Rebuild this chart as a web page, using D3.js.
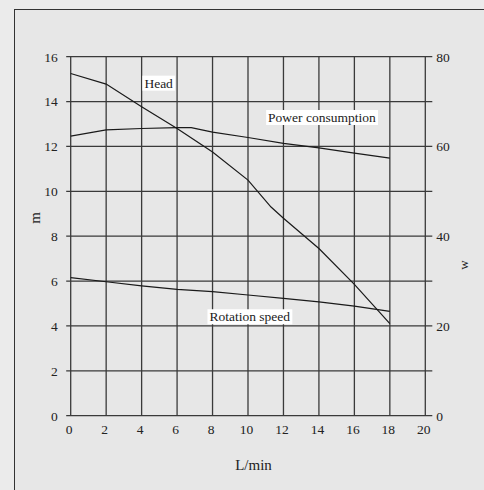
<!DOCTYPE html>
<head>
    <meta charset="utf-8">
    <script src="https://d3js.org/d3.v7.min.js"></script>
    <style>
        body { margin:0; background:#ebebeb; }
        text { font-family: "Liberation Serif", "Times New Roman", serif; fill:#222; }
    </style>
</head>
<body>
<script>
    // flow (L/min) on x
    var flow = [0, 2, 4, 6, 8, 10, 11.3, 12, 14, 16, 18];
    // head in m (left axis)
    var head = [15.25, 14.78, 13.77, 12.8, 11.75, 10.5, 9.3, 8.8, 7.45, 5.85, 4.1];

    var powerFlow = [0, 2, 4, 6, 6.8, 8, 10, 12, 14, 16, 18];
    // power consumption in W (right axis)
    var power = [62.3, 63.7, 64.0, 64.2, 64.2, 63.2, 62.0, 60.7, 59.7, 58.5, 57.4];

    var speedFlow = [0, 2, 4, 6, 8, 10, 12, 14, 16, 18];
    // rotation speed, drawn against the left scale
    var speed = [6.15, 5.97, 5.79, 5.63, 5.53, 5.38, 5.23, 5.07, 4.88, 4.65];

    var xTicks = [0, 2, 4, 6, 8, 10, 12, 14, 16, 18, 20];
    var yTicks = [0, 2, 4, 6, 8, 10, 12, 14, 16];
    var y2Ticks = [0, 20, 40, 60, 80];

    // annotation labels, in data coords (left scale)
    var labels = [
        {text: "Head", x: 4.96, y: 14.83},
        {text: "Power consumption", x: 14.17, y: 13.3},
        {text: "Rotation speed", x: 10.1, y: 4.42}
    ];

    var width = 484, height = 490;
    var serif = '"Liberation Serif", "Times New Roman", serif';

    var svg = d3.select("body").append("svg")
        .attr("width", width)
        .attr("height", height);

    // panel box, only top and left edges show
    svg.append("rect")
        .attr("x", 14.5).attr("y", 9.5)
        .attr("width", 500).attr("height", 500)
        .attr("fill", "#e7e7e7")
        .attr("stroke", "#333")
        .attr("stroke-width", 1);

    var x = d3.scaleLinear().domain([0, 20]).range([70.7, 425.3]);
    var y = d3.scaleLinear().domain([0, 16]).range([415.7, 56.7]);
    var y2 = d3.scaleLinear().domain([0, 80]).range([415.7, 56.7]);

    // grid
    svg.append("g").selectAll("line")
        .data(yTicks).enter().append("line")
        .attr("x1", x(0) - 4.5).attr("x2", x(20) + 7)
        .attr("y1", function(d) { return y(d); })
        .attr("y2", function(d) { return y(d); })
        .attr("stroke", "#3a3a3a")
        .attr("stroke-width", 1.3);

    svg.append("g").selectAll("line")
        .data(xTicks).enter().append("line")
        .attr("x1", function(d) { return x(d); })
        .attr("x2", function(d) { return x(d); })
        .attr("y1", y(16)).attr("y2", y(0))
        .attr("stroke", "#3a3a3a")
        .attr("stroke-width", 1.3);

    // axes (labels only, grid already drawn)
    var gx = svg.append("g")
        .attr("transform", "translate(-2," + y(0) + ")")
        .call(d3.axisBottom(x).tickValues(xTicks).tickSize(0).tickPadding(9));
    var gy = svg.append("g")
        .attr("transform", "translate(" + x(0) + ",0)")
        .call(d3.axisLeft(y).tickValues(yTicks).tickSize(0).tickPadding(13));
    var gy2 = svg.append("g")
        .attr("transform", "translate(" + x(20) + ",0)")
        .call(d3.axisRight(y2).tickValues(y2Ticks).tickSize(0).tickPadding(11));

    [gx, gy, gy2].forEach(function(g) {
        g.attr("font-family", serif).attr("font-size", 13.5);
        g.select(".domain").remove();
        g.selectAll("text")
            .attr("font-family", serif)
            .attr("fill", "#333");
    });

    // curves
    var lineLeft = d3.line()
        .x(function(d) { return x(d[0]); })
        .y(function(d) { return y(d[1]); });
    var lineRight = d3.line()
        .x(function(d) { return x(d[0]); })
        .y(function(d) { return y2(d[1]); });

    svg.append("path")
        .attr("d", lineLeft(d3.zip(flow, head)))
        .attr("fill", "none").attr("stroke", "#1a1a1a").attr("stroke-width", 1.2);
    svg.append("path")
        .attr("d", lineRight(d3.zip(powerFlow, power)))
        .attr("fill", "none").attr("stroke", "#1a1a1a").attr("stroke-width", 1.2);
    svg.append("path")
        .attr("d", lineLeft(d3.zip(speedFlow, speed)))
        .attr("fill", "none").attr("stroke", "#1a1a1a").attr("stroke-width", 1.2);

    // labels with white boxes
    labels.forEach(function(l) {
        var g = svg.append("g");
        var t = g.append("text")
            .attr("x", x(l.x)).attr("y", y(l.y))
            .attr("dy", "0.35em")
            .attr("text-anchor", "middle")
            .attr("font-family", serif)
            .style("font-size", "13.5px")
            .text(l.text);
        var b = t.node().getBBox();
        g.insert("rect", "text")
            .attr("x", b.x - 2).attr("y", b.y)
            .attr("width", b.width + 4).attr("height", b.height)
            .attr("fill", "#fff");
    });

    // axis titles
    svg.append("text")
        .attr("x", 253.5).attr("y", 465)
        .attr("dy", "0.35em")
        .attr("text-anchor", "middle")
        .attr("font-family", serif)
        .style("font-size", "15px")
        .text("L/min");

    svg.append("text")
        .attr("transform", "translate(35,218) rotate(-90)")
        .attr("dy", "0.35em")
        .attr("text-anchor", "middle")
        .attr("font-family", serif)
        .style("font-size", "15px")
        .text("m");

    svg.append("text")
        .attr("transform", "translate(463,265) rotate(-90)")
        .attr("dy", "0.35em")
        .attr("text-anchor", "middle")
        .attr("font-family", serif)
        .style("font-size", "13px")
        .text("w");
</script>
</body>
